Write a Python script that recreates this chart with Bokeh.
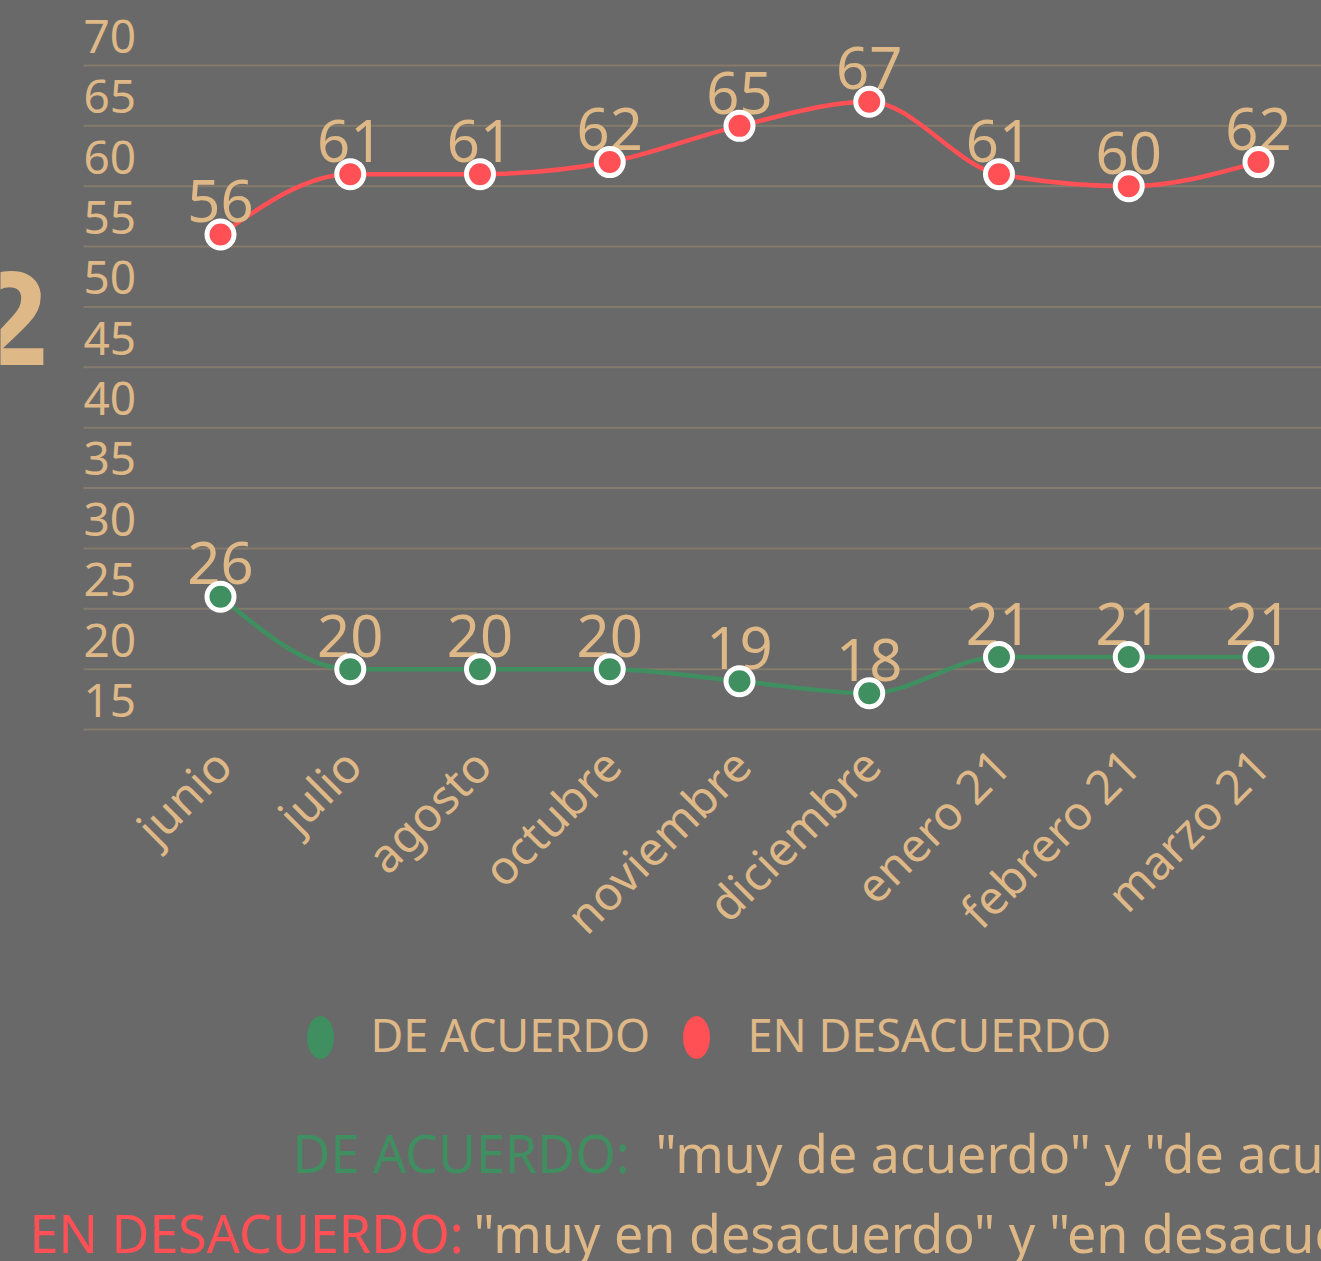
import numpy as np
from bokeh.plotting import figure
from bokeh.models import Range1d
from bokeh.core.properties import value
from bokeh.embed import file_html
from bokeh.resources import INLINE

# ---------------- data ----------------
categories = ["junio", "julio", "agosto", "octubre", "noviembre",
              "diciembre", "enero 21", "febrero 21", "marzo 21"]
de_acuerdo = [26, 20, 20, 20, 19, 18, 21, 21, 21]
en_desacuerdo = [56, 61, 61, 62, 65, 67, 61, 60, 62]
y_ticks = [15, 20, 25, 30, 35, 40, 45, 50, 55, 60, 65, 70]
legend_labels = ["DE ACUERDO", "EN DESACUERDO"]
note_terms = ["DE ACUERDO:", "EN DESACUERDO:"]
note_texts = ['"muy de acuerdo" y "de acuerdo"',
              '"muy en desacuerdo" y "en desacuerdo"']
side_mark = "2"

# ---------------- style ----------------
BG = "#696969"
TAN = "#DEB887"
GRID = "#857b6c"
GREEN = "#408F60"
RED = "#FF5056"
FONT = "Noto Sans"
BASE = 0.35   # correction so that the alphabetic baseline lands where wanted

W, H = 1321, 1261
X0_PX, DX_PX = 220.0, 129.75          # pixel of first category, spacing
YTOP = max(y_ticks)
YTOP_PX, DY_PX = 65.0, 664.0 / 55.0   # pixel of top tick, pixels per unit


def sx(px):
    return (px - X0_PX) / DX_PX


def sy(py):
    return YTOP - (py - YTOP_PX) / DY_PX


def sy_base(py, fs):
    # y for a text whose alphabetic baseline should sit at pixel row py
    return sy(py - BASE * fs)


p = figure(width=W, height=H, output_backend="svg", toolbar_location=None,
           x_range=Range1d(sx(0), sx(W)), y_range=Range1d(sy(H), sy(0)),
           min_border=0, background_fill_color=BG, border_fill_color=BG,
           outline_line_color=None)
p.axis.visible = False
p.grid.visible = False

# gridlines
grid_x0 = sx(83)
p.segment(x0=[grid_x0] * len(y_ticks), x1=[sx(W + 10)] * len(y_ticks),
          y0=y_ticks, y1=y_ticks, line_color=GRID, line_width=2)

# tick labels placed above their gridline
TICK_FS = 46
p.text(x=[grid_x0] * len(y_ticks), y=y_ticks, text=[str(t) for t in y_ticks],
       text_align="left", text_baseline="alphabetic",
       y_offset=-(13 + BASE * TICK_FS),
       text_font=value(FONT), text_font_size=f"{TICK_FS}px", text_color=TAN)

# big partial "2" on the left
BIG_FS = 130
p.text(x=[sx(47)], y=[sy_base(363, BIG_FS)], text=[side_mark], text_align="right",
       text_baseline="alphabetic", text_font=value(FONT),
       text_font_size=f"{BIG_FS}px", text_font_style="bold", text_color=TAN)


def monotone_tangents(y):
    y = np.asarray(y, float)
    n = len(y)
    s = np.diff(y)
    t = np.zeros(n)
    for i in range(1, n - 1):
        s0, s1 = s[i - 1], s[i]
        pm = 0.5 * (s0 + s1)
        t[i] = (np.sign(s0) + np.sign(s1)) * min(abs(s0), abs(s1), 0.5 * abs(pm))
    t[0] = (3 * s[0] - t[1]) / 2
    t[-1] = (3 * s[-1] - t[-2]) / 2
    return t


xs = np.arange(len(categories), dtype=float)


def smooth_line(yv, color):
    yv = np.asarray(yv, float)
    t = monotone_tangents(yv)
    p.bezier(x0=xs[:-1], y0=yv[:-1], x1=xs[1:], y1=yv[1:],
             cx0=xs[:-1] + 1 / 3, cy0=yv[:-1] + t[:-1] / 3,
             cx1=xs[1:] - 1 / 3, cy1=yv[1:] - t[1:] / 3,
             line_color=color, line_width=4.5, line_cap="round")


smooth_line(en_desacuerdo, RED)
smooth_line(de_acuerdo, GREEN)

VAL_FS = 58
for yv in (en_desacuerdo, de_acuerdo):
    p.text(x=xs, y=yv, text=[str(v) for v in yv], text_align="center",
           text_baseline="alphabetic", y_offset=-(13 + BASE * VAL_FS),
           text_font=value(FONT), text_font_size=f"{VAL_FS}px", text_color=TAN)

for yv, col in ((en_desacuerdo, RED), (de_acuerdo, GREEN)):
    p.scatter(x=xs, y=yv, size=27, fill_color=col, line_color="white",
              line_width=5)

# rotated category labels
p.text(x=xs, y=[sy(756)] * len(xs), text=categories, angle=np.pi / 4,
       text_align="right", text_baseline="middle", x_offset=2,
       text_font=value(FONT), text_font_size="47px", text_color=TAN)

# legend
LEG_FS = 45
p.ellipse(x=[sx(320), sx(696)], y=[sy(1037)] * 2, width=27, height=43,
          width_units="screen", height_units="screen",
          fill_color=[GREEN, RED], line_color=None)
p.text(x=[sx(370), sx(747)], y=[sy_base(1050, LEG_FS)] * 2, text=legend_labels,
       text_align="left", text_baseline="alphabetic", text_font=value(FONT),
       text_font_size=f"{LEG_FS}px", text_color=TAN)

# footnotes
NOTE_FS = 52
note_y = [sy_base(1170, NOTE_FS), sy_base(1250, NOTE_FS)]
p.text(x=[sx(292), sx(29)], y=note_y, text=note_terms,
       text_color=[GREEN, RED], text_align="left", text_baseline="alphabetic",
       text_font=value(FONT), text_font_size=f"{NOTE_FS}px")
p.text(x=[sx(655), sx(473)], y=note_y, text=note_texts,
       text_color=TAN, text_align="left", text_baseline="alphabetic",
       text_font=value(FONT), text_font_size=f"{NOTE_FS}px")

html = file_html(p, INLINE)
html = html.replace("</head>",
                    "<style>html, body { background-color: #696969; }</style></head>", 1)
open("out.html", "w").write(html)
